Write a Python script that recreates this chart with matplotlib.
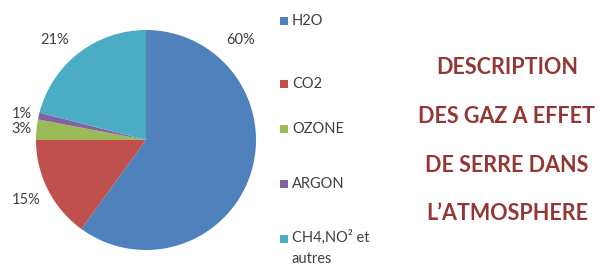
import matplotlib
matplotlib.use('Agg')
import matplotlib.pyplot as plt
from matplotlib.patches import Rectangle

# data
gases = ['H2O', 'CO2', 'OZONE', 'ARGON', 'CH4,NO² et\nautres']
shares = [60, 15, 3, 1, 21]
colors = ['#4F81BD', '#C0504D', '#9BBB59', '#8064A2', '#4BACC6']
title_lines = ['DESCRIPTION', 'DES GAZ A EFFET', 'DE SERRE DANS', 'L\u2019ATMOSPHERE']

# where Excel put the percentage labels (pie units, radius = 1)
pct_pos = [(0.86, 0.91), (-1.09, -0.55), (-1.13, 0.10), (-1.13, 0.24), (-0.83, 0.91)]
# legend rows, figure y in pixels from top
legend_y = [21, 84, 129, 184, 239]

W, H = 604, 266
fig = plt.figure(figsize=(W / 100, H / 100), dpi=100)
plt.rcParams['font.family'] = ['Lato', 'DejaVu Sans']

# pie centred at (146, 140) px, radius 110 px
r = 110
cx, cy = 146, 140
ax = fig.add_axes([(cx - r) / W, (H - cy - r) / H, 2 * r / W, 2 * r / H])
wedges, _ = ax.pie(shares, colors=colors, startangle=90, counterclock=False,
                   radius=1, wedgeprops=dict(linewidth=0))
ax.set_xlim(-1, 1)
ax.set_ylim(-1, 1)
ax.set_aspect('auto')
ax.axis('off')

for val, (px, py) in zip(shares, pct_pos):
    ax.text(px, py, f"{val}%", ha='center', va='center', fontsize=10.5,
            color='#404040', clip_on=False)

# legend
sq = 8
for gas, col, y in zip(gases, colors, legend_y):
    fig.patches.append(Rectangle((280 / W, (H - y - sq / 2) / H), sq / W, sq / H,
                                 transform=fig.transFigure, facecolor=col,
                                 edgecolor='none'))
    if '\n' in gas:
        fig.text(292 / W, (H - y + 9) / H, gas, ha='left', va='top',
                 fontsize=10.5, color='#404040', linespacing=1.6)
    else:
        fig.text(292 / W, (H - y) / H, gas, ha='left', va='center',
                 fontsize=10.5, color='#404040')

# title block
for i, line in enumerate(title_lines):
    fig.text(507 / W, (H - (68 + 48.5 * i)) / H, line, ha='center', va='center',
             fontsize=15.5, fontweight='bold', color='#943634')

fig.savefig('out.png', dpi=100)
